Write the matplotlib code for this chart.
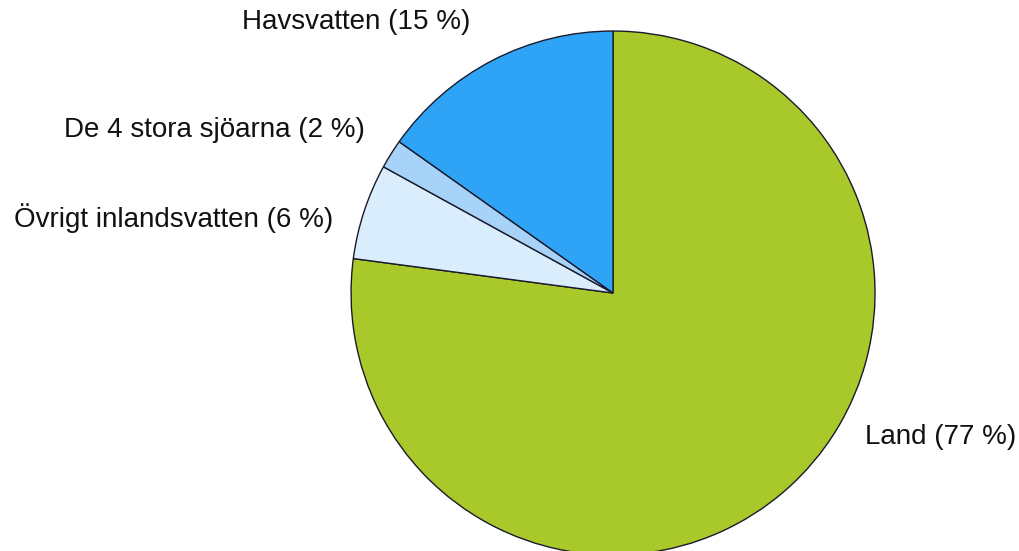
import matplotlib
matplotlib.use("Agg")
import matplotlib.pyplot as plt

# andelar av Sveriges yta
labels = ["Land (77 %)", "Övrigt inlandsvatten (6 %)", "De 4 stora sjöarna (2 %)", "Havsvatten (15 %)"]
values = [77.1, 5.9, 1.8, 15.2]
colors = ["#a9c92b", "#d9edfc", "#a6d3f7", "#2fa4f7"]

plt.rcParams["font.family"] = ["Liberation Sans", "DejaVu Sans"]

fig = plt.figure(figsize=(10.19, 5.51), dpi=100)
ax = fig.add_axes([0.3445, -0.0073, 0.5142, 0.951])

ax.pie(values, colors=colors, startangle=90, counterclock=False,
       wedgeprops=dict(edgecolor="#1a1a2a", linewidth=1.0),
       radius=1.0)
ax.set_xlim(-1, 1)
ax.set_ylim(-1, 1)
ax.set_aspect("equal")
ax.axis("off")

# etiketter (data-enheter relativt cirkeln)
label_pos = [
    (0.962, -0.550, "left"),
    (-1.069, 0.286, "right"),
    (-0.947, 0.622, "right"),
    (-0.546, 1.034, "right"),
]
for lab, (x, y, ha) in zip(labels, label_pos):
    ax.text(x, y, lab, ha=ha, va="center", fontsize=20, color="#111111", clip_on=False)

fig.savefig("out.png", dpi=100)
